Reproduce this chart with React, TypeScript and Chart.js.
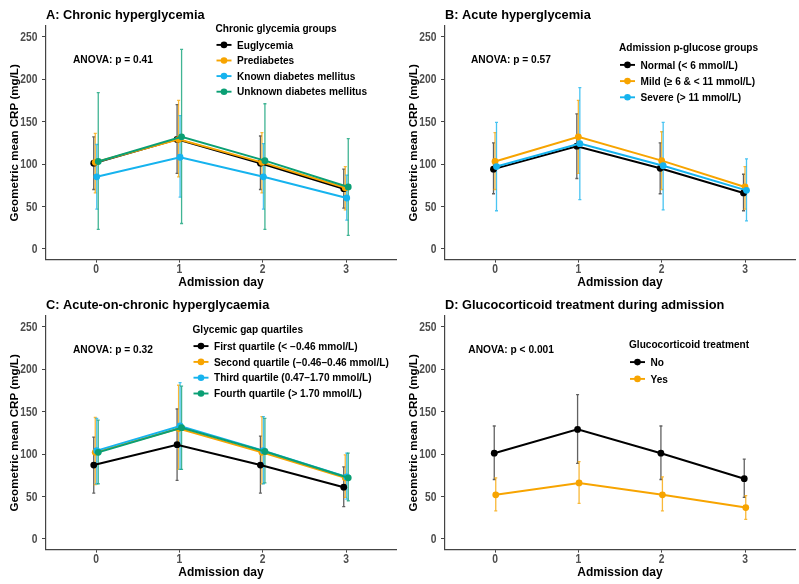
import { useEffect, useRef } from "react";
import { Chart, registerables } from "chart.js";

Chart.register(...registerables);

// shared axes
const days = [0, 1, 2, 3];
const yTicks = [0, 50, 100, 150, 200, 250];

// A: chronic hyperglycemia
const aGroups = ["Euglycemia", "Prediabetes", "Known diabetes mellitus", "Unknown diabetes mellitus"];
const aMean = [
  [101, 129, 101, 71],
  [102, 129, 102, 72],
  [85, 108, 85, 60],
  [103, 132, 104, 73],
];
const aLow = [
  [70, 89, 70, 48],
  [66, 85, 66, 46],
  [47, 61, 47, 34],
  [23, 30, 23, 16],
];
const aHigh = [
  [132, 170, 133, 94],
  [136, 175, 137, 97],
  [123, 157, 124, 87],
  [184, 235, 171, 130],
];

// B: acute hyperglycemia
const bGroups = ["Normal (< 6 mmol/L)", "Mild (≥ 6 & < 11 mmol/L)", "Severe (> 11 mmol/L)"];
const bMean = [
  [94, 121, 95, 66],
  [103, 132, 104, 73],
  [97, 124, 98, 69],
];
const bLow = [
  [65, 83, 65, 45],
  [70, 89, 70, 47],
  [45, 58, 46, 33],
];
const bHigh = [
  [125, 159, 125, 88],
  [137, 175, 138, 97],
  [149, 190, 149, 106],
];

// C: acute-on-chronic
const cGroups = [
  "First quartile (< −0.46 mmol/L)",
  "Second quartile (−0.46–0.46 mmol/L)",
  "Third quartile (0.47–1.70 mmol/L)",
  "Fourth quartile (> 1.70 mmol/L)",
];
const cMean = [
  [87, 111, 87, 61],
  [102, 130, 102, 72],
  [104, 133, 104, 73],
  [102, 131, 103, 72],
];
const cLow = [
  [54, 69, 54, 38],
  [64, 82, 65, 49],
  [65, 82, 65, 47],
  [65, 82, 66, 45],
];
const cHigh = [
  [120, 153, 121, 85],
  [143, 181, 144, 99],
  [142, 184, 144, 101],
  [140, 180, 142, 101],
];

// D: glucocorticoids
const dGroups = ["No", "Yes"];
const dMean = [
  [101, 129, 101, 71],
  [52, 66, 52, 37],
];
const dLow = [
  [70, 89, 70, 49],
  [33, 42, 33, 23],
];
const dHigh = [
  [133, 170, 133, 94],
  [72, 91, 73, 51],
];

const colors = ["#000000", "#F7A400", "#16B3EE", "#0A9F74"];
const barColors = ["rgba(0,0,0,0.62)", "rgba(247,164,0,0.78)", "rgba(22,179,238,0.78)", "rgba(10,159,116,0.78)"];
const FONT = "'Liberation Sans', Arial, sans-serif";
const W = 400;
const H = 290;

interface PanelProps {
  title: string;
  anova: string;
  anovaX: number;
  legendTitle: string;
  legendX: number;
  legendY: number;
  rowGap: number;
  groups: string[];
  mean: number[][];
  low: number[][];
  high: number[][];
}

const dodge = (i: number, n: number) => (i - (n - 1) / 2) * 0.018;

// tick labels in the reference are tall and narrow
const tallText = (ctx: CanvasRenderingContext2D, s: string, x: number, yMid: number, align: CanvasTextAlign) => {
  ctx.save();
  ctx.translate(x, yMid);
  ctx.scale(1, 1.16);
  ctx.textAlign = align;
  ctx.fillText(s, 0, 3.7);
  ctx.restore();
};

const Panel = (p: PanelProps) => {
  const ref = useRef<HTMLCanvasElement | null>(null);

  useEffect(() => {
    if (!ref.current) return;
    const n = p.groups.length;

    const errorBars = {
      id: "errorBars",
      beforeDatasetsDraw(chart: Chart) {
        const { ctx } = chart;
        const xs = chart.scales.x;
        const ys = chart.scales.y;
        ctx.save();
        ctx.lineWidth = 1.3;
        for (let i = 0; i < n; i++) {
          ctx.strokeStyle = barColors[i];
          days.forEach((d, j) => {
            const x = xs.getPixelForValue(d + dodge(i, n));
            const y1 = ys.getPixelForValue(p.low[i][j]);
            const y2 = ys.getPixelForValue(p.high[i][j]);
            ctx.beginPath();
            ctx.moveTo(x, y1);
            ctx.lineTo(x, y2);
            ctx.moveTo(x - 1.5, y1);
            ctx.lineTo(x + 1.5, y1);
            ctx.moveTo(x - 1.5, y2);
            ctx.lineTo(x + 1.5, y2);
            ctx.stroke();
          });
        }
        ctx.restore();
      },
    };

    const overlay = {
      id: "overlay",
      afterDraw(chart: Chart) {
        const { ctx, chartArea } = chart;
        const xs = chart.scales.x;
        const ys = chart.scales.y;
        ctx.save();
        ctx.textBaseline = "alphabetic";
        ctx.textAlign = "left";

        // tick labels
        ctx.fillStyle = "#4D4D4D";
        ctx.font = `bold 10.3px ${FONT}`;
        yTicks.forEach((v) => tallText(ctx, String(v), 37.5, ys.getPixelForValue(v), "right"));
        days.forEach((d) => tallText(ctx, String(d), xs.getPixelForValue(d), 268.3, "center"));

        ctx.fillStyle = "#000";
        ctx.font = `bold 12.8px ${FONT}`;
        ctx.fillText(p.title, 46, 18.8);

        ctx.font = `bold 10.2px ${FONT}`;
        ctx.fillText(p.anova, p.anovaX, 62.6);

        // legend
        ctx.font = `bold 10.1px ${FONT}`;
        ctx.fillText(p.legendTitle, p.legendX - 1, p.legendY + 3.6);
        p.groups.forEach((g, i) => {
          const y = p.legendY + p.rowGap * (i + 1) + 1;
          ctx.strokeStyle = colors[i];
          ctx.lineWidth = 1.9;
          ctx.beginPath();
          ctx.moveTo(p.legendX, y);
          ctx.lineTo(p.legendX + 15, y);
          ctx.stroke();
          ctx.fillStyle = colors[i];
          ctx.beginPath();
          ctx.arc(p.legendX + 7.5, y, 3.3, 0, Math.PI * 2);
          ctx.fill();
          ctx.fillStyle = "#000";
          ctx.fillText(g, p.legendX + 20.5, y + 3.6);
        });

        // axis titles
        ctx.font = `bold 12px ${FONT}`;
        ctx.textAlign = "center";
        ctx.fillText("Admission day", (chartArea.left + chartArea.right) / 2, 286);
        ctx.font = `bold 11.6px ${FONT}`;
        ctx.translate(17.5, (chartArea.top + chartArea.bottom) / 2);
        ctx.rotate(-Math.PI / 2);
        ctx.fillText("Geometric mean CRP (mg/L)", 0, 0);
        ctx.restore();
      },
    };

    const chart = new Chart(ref.current, {
      type: "line",
      data: {
        datasets: p.groups.map((g, i) => ({
          label: g,
          data: days.map((d, j) => ({ x: d + dodge(i, n), y: p.mean[i][j] })),
          borderColor: colors[i],
          backgroundColor: colors[i],
          borderWidth: 2,
          pointRadius: 3.4,
          pointBorderWidth: 0,
          pointHoverRadius: 3.4,
          tension: 0,
          order: n - i,
        })),
      },
      options: {
        animation: false,
        responsive: false,
        events: [],
        layout: { padding: { top: 26, right: 4, left: 0, bottom: 0 } },
        plugins: {
          legend: { display: false },
          tooltip: { enabled: false },
          title: { display: false },
        },
        scales: {
          x: {
            type: "linear",
            min: -0.6,
            max: 3.6,
            afterBuildTicks: (s: any) => {
              s.ticks = days.map((v) => ({ value: v }));
            },
            afterFit: (s: any) => {
              s.height = 30.4;
            },
            grid: { drawOnChartArea: false, drawTicks: true, tickLength: 3, color: "#444" },
            border: { display: true, color: "#444", width: 1.2 },
            ticks: { display: false },
          },
          y: {
            type: "linear",
            min: -12.5,
            max: 262.5,
            afterBuildTicks: (s: any) => {
              s.ticks = yTicks.map((v) => ({ value: v }));
            },
            afterFit: (s: any) => {
              s.width = 46;
            },
            grid: { drawOnChartArea: false, drawTicks: true, tickLength: 4, color: "#444" },
            border: { display: true, color: "#444", width: 1.2 },
            ticks: { display: false },
          },
        },
      },
      plugins: [errorBars, overlay],
    });

    return () => chart.destroy();
  }, []);

  return <canvas ref={ref} width={W} height={H} style={{ width: W, height: H, display: "block" }} />;
};

export default function App() {
  return (
    <div style={{ position: "absolute", left: 0, top: 0, width: 799, height: 584, background: "#fff" }}>
      <div style={{ position: "absolute", left: 0, top: 0 }}>
        <Panel
          title="A: Chronic hyperglycemia"
          anova="ANOVA: p = 0.41"
          anovaX={73}
          legendTitle="Chronic glycemia groups"
          legendX={216.5}
          legendY={28.3}
          rowGap={15.6}
          groups={aGroups}
          mean={aMean}
          low={aLow}
          high={aHigh}
        />
      </div>
      <div style={{ position: "absolute", left: 399, top: 0 }}>
        <Panel
          title="B: Acute hyperglycemia"
          anova="ANOVA: p = 0.57"
          anovaX={72}
          legendTitle="Admission p-glucose groups"
          legendX={221}
          legendY={47.7}
          rowGap={16.2}
          groups={bGroups}
          mean={bMean}
          low={bLow}
          high={bHigh}
        />
      </div>
      <div style={{ position: "absolute", left: 0, top: 290 }}>
        <Panel
          title="C: Acute-on-chronic hyperglycaemia"
          anova="ANOVA: p = 0.32"
          anovaX={73}
          legendTitle="Glycemic gap quartiles"
          legendX={193.5}
          legendY={39.3}
          rowGap={15.8}
          groups={cGroups}
          mean={cMean}
          low={cLow}
          high={cHigh}
        />
      </div>
      <div style={{ position: "absolute", left: 399, top: 290 }}>
        <Panel
          title="D: Glucocorticoid treatment during admission"
          anova="ANOVA: p < 0.001"
          anovaX={69.3}
          legendTitle="Glucocorticoid treatment"
          legendX={231}
          legendY={54.3}
          rowGap={16.8}
          groups={dGroups}
          mean={dMean}
          low={dLow}
          high={dHigh}
        />
      </div>
    </div>
  );
}
